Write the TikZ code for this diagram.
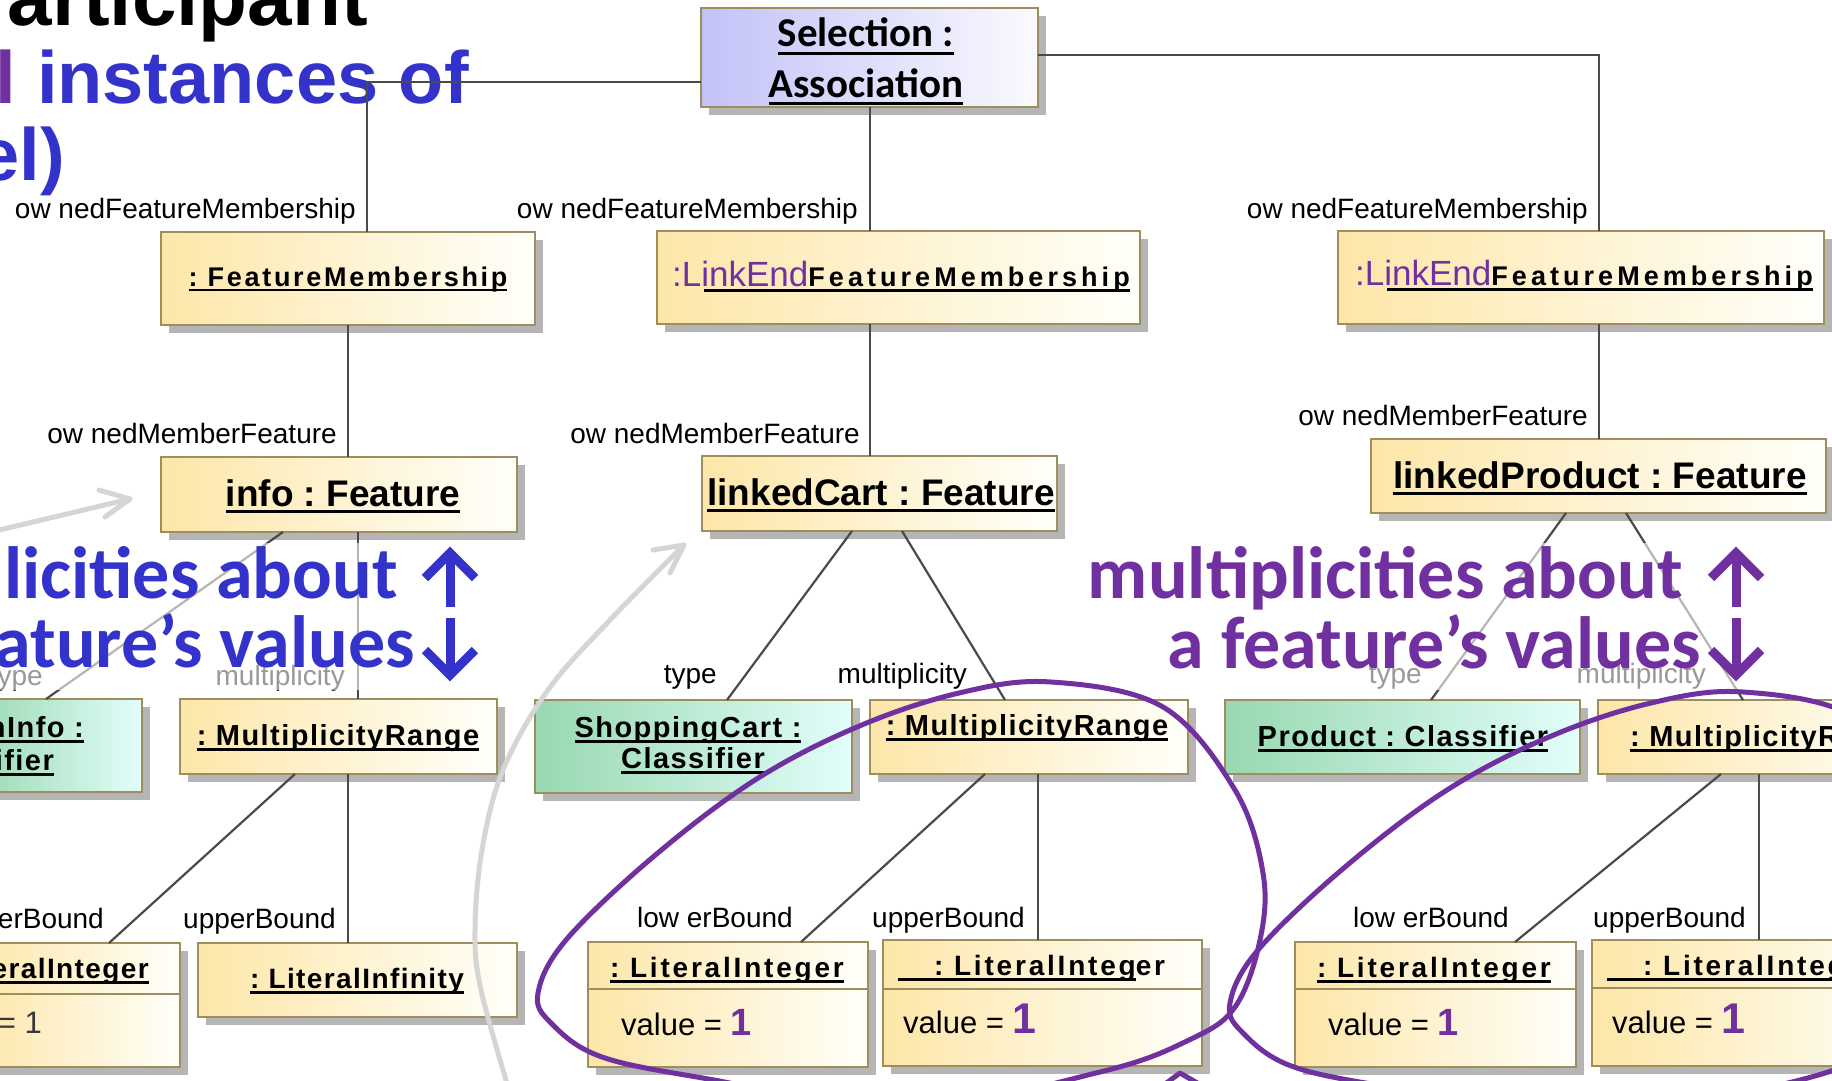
\documentclass[tikz,border=0pt]{standalone}
\usepackage{fontspec}
\setmainfont{Liberation Sans}
\newfontfamily\calfont{Carlito}
\newfontfamily\spsmall[LetterSpace=5]{Liberation Sans}
\newfontfamily\spmid[LetterSpace=10]{Liberation Sans}
\newfontfamily\spwide[LetterSpace=15]{Liberation Sans}
\frenchspacing

\definecolor{boxline}{HTML}{9E8E5E}
\definecolor{yelL}{HTML}{FDE6A8}
\definecolor{yelR}{HTML}{FFFFFA}
\definecolor{grnL}{HTML}{98D8B0}
\definecolor{grnR}{HTML}{E2FEFB}
\definecolor{lavL}{HTML}{C2C2F8}
\definecolor{lavR}{HTML}{FAFAFF}
\definecolor{shadowgray}{HTML}{B5B5B5}
\definecolor{connc}{HTML}{4A4A4A}
\definecolor{slideblue}{HTML}{3333CC}
\definecolor{slidepurple}{HTML}{7030A0}
\definecolor{arcgray}{HTML}{D5D5D5}

% underline drawn as a rule, scaled with the current font
\newcommand\undl[1]{\setbox0=\hbox{#1}\rlap{\vrule width\wd0 height -0.11em depth 0.2em}\box0}

% box with drop shadow: name, x1, y1, x2, y2, style
\newcommand\umlbox[6]{%
  \fill[shadowgray] ({#2+8},{#3+8}) rectangle ({#4+8},{#5+8});
  \node[#6, minimum width={(#4-(#2))*1pt}, minimum height={(#5-(#3))*1pt}] (#1) at ({(#2+#4)/2},{(#3+#5)/2}) {};
}
% attribute compartment separator
\newcommand\compart[2]{\draw[boxline, line width=2.2pt] ([yshift=-#2pt]#1.north west) -- ([yshift=-#2pt]#1.north east);}

\tikzset{
  boxbase/.style={rectangle, draw=boxline, line width=2.2pt, inner sep=0pt, outer sep=0pt},
  ybox/.style={boxbase, left color=yelL, right color=yelR},
  gbox/.style={boxbase, left color=grnL, right color=grnR},
  lbox/.style={boxbase, left color=lavL, right color=lavR},
  conn/.style={draw=connc, line width=2.2pt},
  lbl/.style={anchor=base east, inner sep=0pt, font=\fontsize{28}{32}\selectfont, text=black},
  ttlA/.style={anchor=base, inner sep=0pt, font=\bfseries\fontsize{37}{40}\selectfont},
  ttlB/.style={anchor=base, inner sep=0pt, font=\spsmall\bfseries\fontsize{29}{32}\selectfont},
  ttlC/.style={anchor=base, inner sep=0pt, font=\spmid\bfseries\fontsize{28}{32}\selectfont},
  valtxt/.style={anchor=base west, inner sep=0pt, font=\fontsize{31}{34}\selectfont},
  bigtxt/.style={anchor=base east, inner sep=0pt, font=\calfont\bfseries\fontsize{74}{80}\selectfont},
  headtxt/.style={anchor=base east, inner sep=0pt, font=\bfseries\fontsize{74}{80}\selectfont},
  arw/.style={line width=9pt, line cap=butt, line join=miter},
  garc/.style={draw=arcgray, line width=5pt, line cap=round, line join=round},
  loopline/.style={draw=slidepurple, line width=5pt},
}

\begin{document}
\begin{tikzpicture}[x=1pt, y=-1pt]
\useasboundingbox (0,0) rectangle (1832,1081);
\clip (0,0) rectangle (1832,1081);
\fill[white] (0,0) rectangle (1832,1081);

% slide heading behind the diagram
\node[headtxt, font=\bfseries\fontsize{80}{90}\selectfont] (head1) at (368,26) {articipant};
\node[headtxt, text=slideblue] (head2) at (469,103) {\textcolor{slidepurple}{l} instances of};
\node[headtxt, text=slideblue] (head3) at (65,180) {el)};

% ---------- boxes ----------
\umlbox{sel}{701}{8}{1038}{107}{lbox}
\umlbox{fm}{161}{232}{535}{325}{ybox}
\umlbox{le1}{657}{231}{1140}{324}{ybox}
\umlbox{le2}{1338}{231}{1824}{324}{ybox}
\umlbox{info}{161}{457}{517}{532}{ybox}
\umlbox{cart}{702}{456}{1057}{531}{ybox}
\umlbox{prod}{1371}{439}{1826}{513}{ybox}
\umlbox{cls1}{-30}{699}{142}{792}{gbox}
\umlbox{mr1}{180}{699}{497}{774}{ybox}
\umlbox{sc}{535}{700}{852}{793}{gbox}
\umlbox{mr2}{870}{700}{1188}{774}{ybox}
\umlbox{pc}{1225}{700}{1580}{774}{gbox}
\umlbox{mr3}{1598}{700}{1920}{774}{ybox}
\umlbox{li0}{-30}{943}{180}{1067}{ybox}
\umlbox{linf}{198}{943}{517}{1017}{ybox}
\umlbox{li1}{588}{942}{868}{1067}{ybox}
\umlbox{li2}{883}{940}{1202}{1066}{ybox}
\umlbox{li3}{1295}{942}{1576}{1067}{ybox}
\umlbox{li4}{1592}{940}{1920}{1066}{ybox}
\compart{li0}{51}
\compart{li1}{47}
\compart{li2}{49}
\compart{li3}{47}
\compart{li4}{48}

% ---------- connectors ----------
\draw[conn] ([yshift=-24.5pt]sel.west) -| ([xshift=206pt]fm.north west);
\draw[conn] ([xshift=169pt]sel.south west) -- ([xshift=213pt]le1.north west);
\draw[conn] ([yshift=2.5pt]sel.east) -| ([xshift=261pt]le2.north west);
\draw[conn] ([xshift=187pt]fm.south west) -- ([xshift=187pt]info.north west);
\draw[conn] ([xshift=213pt]le1.south west) -- ([xshift=168pt]cart.north west);
\draw[conn] ([xshift=261pt]le2.south west) -- ([xshift=228pt]prod.north west);
\draw[conn] ([xshift=122pt]info.south west) -- ([xshift=-96pt]cls1.north east);
\draw[conn] ([xshift=197pt]info.south west) -- ([xshift=178pt]mr1.north west);
\draw[conn] ([xshift=150pt]cart.south west) -- ([xshift=192pt]sc.north west);
\draw[conn] ([xshift=200pt]cart.south west) -- ([xshift=135pt]mr2.north west);
\draw[conn] ([xshift=195pt]prod.south west) -- ([xshift=206pt]pc.north west);
\draw[conn] ([xshift=255pt]prod.south west) -- ([xshift=145pt]mr3.north west);
\draw[conn] ([xshift=115pt]mr1.south west) -- ([xshift=-71pt]li0.north east);
\draw[conn] ([xshift=168pt]mr1.south west) -- ([xshift=150pt]linf.north west);
\draw[conn] ([xshift=115pt]mr2.south west) -- ([xshift=213pt]li1.north west);
\draw[conn] ([xshift=168pt]mr2.south west) -- ([xshift=155pt]li2.north west);
\draw[conn] ([xshift=123pt]mr3.south west) -- ([xshift=220pt]li3.north west);
\draw[conn] ([xshift=161pt]mr3.south west) -- ([xshift=167pt]li4.north west);

% ---------- box titles ----------
\node[ttlA, font=\calfont\bfseries\fontsize{41}{44}\selectfont] (sel-a) at (866,47) {\undl{Selection :}};
\node[ttlA, font=\calfont\bfseries\fontsize{41}{44}\selectfont] (sel-b) at (866,97) {\undl{Association}};
\node[ttlC, font=\spmid\bfseries\fontsize{27}{30}\selectfont] (fm-t) at (348,286) {\undl{: FeatureMembership}};
\node[anchor=base west, inner sep=0pt] (le1-t) at (672,286)
  {{\color{slidepurple}\fontsize{35}{38}\selectfont :LinkEnd}{\spwide\bfseries\fontsize{27}{30}\selectfont FeatureMembership}};
\fill ([xshift=32pt,yshift=-3pt]le1-t.base west) rectangle ([yshift=-6pt]le1-t.base east);
\node[anchor=base west, inner sep=0pt] (le2-t) at (1355,285)
  {{\color{slidepurple}\fontsize{35}{38}\selectfont :LinkEnd}{\spwide\bfseries\fontsize{27}{30}\selectfont FeatureMembership}};
\fill ([xshift=32pt,yshift=-3pt]le2-t.base west) rectangle ([yshift=-6pt]le2-t.base east);
\node[ttlA] (info-t) at (343,506) {\undl{info : Feature}};
\node[ttlA] (cart-t) at (881,505) {\undl{linkedCart : Feature}};
\node[ttlA] (prod-t) at (1600,488) {\undl{linkedProduct : Feature}};
\node[ttlB, anchor=base east] (cls1-a) at (84,737) {\undl{nInfo :}};
\node[ttlB, anchor=base east] (cls1-b) at (54,770) {\undl{ifier}};
\node[ttlB] (mr1-t) at (338,745) {\undl{: MultiplicityRange}};
\node[ttlB] (sc-a) at (688,737) {\undl{ShoppingCart :}};
\node[ttlB] (sc-b) at (693,768) {\undl{Classifier}};
\node[ttlB] (mr2-t) at (1027,735) {\undl{: MultiplicityRange}};
\node[ttlB] (pc-t) at (1403,746) {\undl{Product : Classifier}};
\node[ttlB, anchor=base west] (mr3-t) at (1630,746) {\undl{: MultiplicityR}};
\node[ttlC, font=\spsmall\bfseries\fontsize{28}{32}\selectfont] (linf-t) at (357,988) {\undl{: LiteralInfinity}};
\node[ttlC, anchor=base east, font=\spsmall\bfseries\fontsize{28}{32}\selectfont] (li0-t) at (149,978) {\undl{eralInteger}};
\node[ttlC] (li1-t) at (727,977) {\undl{: LiteralInteger}};
\node[ttlC, anchor=base west] (li2-t) at (898,975) {\undl{\hspace*{36pt}: LiteralInteg}er};
\node[ttlC] (li3-t) at (1434,977) {\undl{: LiteralInteger}};
\node[ttlC, anchor=base west] (li4-t) at (1607,975) {\undl{\hspace*{36pt}: LiteralInteg}e};

% ---------- attribute values ----------
\node[valtxt, anchor=base east, text=black!78] (li0-v) at (42,1033) {= 1};
\node[valtxt] (li1-v) at (621,1035) {value = {\color{slidepurple}\bfseries\fontsize{38}{40}\selectfont 1}};
\node[valtxt] (li2-v) at (903,1033) {value = {\color{slidepurple}\bfseries\fontsize{43}{45}\selectfont 1}};
\node[valtxt] (li3-v) at (1328,1035) {value = {\color{slidepurple}\bfseries\fontsize{38}{40}\selectfont 1}};
\node[valtxt] (li4-v) at (1612,1033) {value = {\color{slidepurple}\bfseries\fontsize{43}{45}\selectfont 1}};

% ---------- role names ----------
\node[lbl] (r1) at (356,218) {ow nedFeatureMembership};
\node[lbl] (r2) at (858,218) {ow nedFeatureMembership};
\node[lbl] (r3) at (1588,218) {ow nedFeatureMembership};
\node[lbl] (r4) at (337,443) {ow nedMemberFeature};
\node[lbl] (r5) at (860,443) {ow nedMemberFeature};
\node[lbl] (r6) at (1588,425) {ow nedMemberFeature};
\node[lbl] (r7) at (43,685) {type};
\node[lbl] (r8) at (345,685) {multiplicity};
\node[lbl] (r9) at (717,683) {type};
\node[lbl] (r10) at (967,683) {multiplicity};
\node[lbl] (r11) at (1422,683) {type};
\node[lbl] (r12) at (1706,683) {multiplicity};
\node[lbl] (r13) at (104,928) {erBound};
\node[lbl] (r14) at (336,928) {upperBound};
\node[lbl] (r15) at (793,927) {low erBound};
\node[lbl] (r16) at (1025,927) {upperBound};
\node[lbl] (r17) at (1509,927) {low erBound};
\node[lbl] (r18) at (1746,927) {upperBound};

% ---------- callout texts ----------
\fill[white, opacity=0.6] (0,543) rectangle (490,690);
\fill[white, opacity=0.6] (1075,543) rectangle (1832,690);
\node[bigtxt, text=slideblue] (mbA) at (398,598) {licities about};
\node[bigtxt, text=slideblue] (mbB) at (415,667) {ature’s values};
\node[bigtxt, text=slidepurple] (mpA) at (1683,598) {multiplicities about};
\node[bigtxt, text=slidepurple] (mpB) at (1701,668) {a feature’s values};
\foreach \ax/\ac in {450/slideblue, 1736/slidepurple}{
  \draw[arw, \ac] (\ax,607) -- (\ax,556);
  \draw[arw, \ac] (\ax-25,578) -- (\ax,553) -- (\ax+25,578);
  \draw[arw, \ac] (\ax,618) -- (\ax,672);
  \draw[arw, \ac] (\ax-25,650) -- (\ax,675) -- (\ax+25,650);
}

% ---------- grey pointer arrows ----------
\coordinate (g1a) at (-5,531);
\coordinate (g1b) at (130,499);
\draw[garc] (g1a) -- (g1b);
\draw[garc] (99,490) -- (g1b) -- (105,517);
\coordinate (g2b) at (684,545);
\draw[garc] plot[smooth, tension=0.6] coordinates {(509,1090) (481,990) (475,930) (482,850) (503,770) (548,690) (610,620) (684,545)};
\draw[garc] (653,550) -- (g2b) -- (670,573);

% ---------- purple loops ----------
\foreach \dx/\dy in {0/0, 692/10}{
  \draw[loopline, shift={(\dx,\dy)}] plot[smooth cycle, tension=0.6] coordinates {
    (1051,682) (1163,707) (1235,790) (1263,873) (1260,940) (1235,1007) (1189,1040)
    (1100,1072) (900,1110) (714,1080) (602,1057) (551,1023) (538,993) (566,940)
    (653,857) (755,780) (857,727) (959,693)};
}
\coordinate (pk) at (1180,1073);
\draw[loopline, line join=round] (1165,1084) -- (pk) -- (1199,1084);
\end{tikzpicture}
\end{document}
